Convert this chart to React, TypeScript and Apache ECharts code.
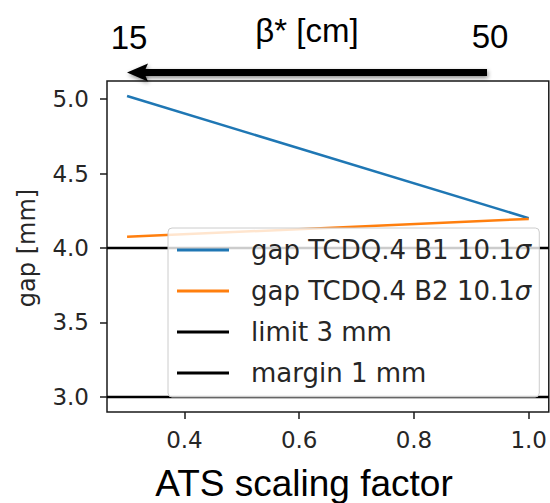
import React, { useEffect, useRef } from 'react';
import * as echarts from 'echarts';

const atsFactor = [0.3, 1.0];
const gapB1 = [5.02, 4.2];
const gapB2 = [4.075, 4.195];
const limitLevel = 3.0;
const marginLevel = 4.0;
const xTicks = [0.4, 0.6, 0.8, 1.0];
const yTicks = [3.0, 3.5, 4.0, 4.5, 5.0];
const seriesNames = ['gap TCDQ.4 B1 10.1σ', 'gap TCDQ.4 B2 10.1σ', 'limit 3 mm', 'margin 1 mm'];
const xRange = [0.265, 1.035];
const yRange = [2.899, 5.121];
const betaLabels = ['15', '50'];
const betaTitle = 'β* [cm]';
const xTitle = 'ATS scaling factor';
const yTitle = 'gap [mm]';

export default function App() {
  const ref = useRef<HTMLDivElement>(null);
  useEffect(() => {
    if (!ref.current) return;
    const chart = echarts.init(ref.current, null, { renderer: 'svg' });
    const tickFont = { fontFamily: 'DejaVu Sans', fontSize: 23, color: '#262626' };
    const shadow = { shadowBlur: 4, shadowColor: 'rgba(0,0,0,0.45)', shadowOffsetX: 1, shadowOffsetY: 2 };
    chart.setOption({
      animation: false,
      grid: {
        left: 107, top: 81, width: 445, height: 331,
        show: true, borderColor: '#1a1a1a', borderWidth: 1.5, backgroundColor: 'transparent',
      },
      xAxis: {
        type: 'value', min: xRange[0], max: xRange[1],
        splitLine: { show: false },
        axisLine: { show: false },
        axisTick: { show: true, length: 7, customValues: xTicks, lineStyle: { color: '#1a1a1a', width: 1.5 } },
        axisLabel: { customValues: xTicks, margin: 16, formatter: (v: number) => v.toFixed(1), ...tickFont },
      },
      yAxis: {
        type: 'value', min: yRange[0], max: yRange[1],
        splitLine: { show: false },
        axisLine: { show: false },
        axisTick: { show: true, length: 7, customValues: yTicks, lineStyle: { color: '#1a1a1a', width: 1.5 } },
        axisLabel: { customValues: yTicks, margin: 18, formatter: (v: number) => v.toFixed(1), ...tickFont },
      },
      legend: {
        orient: 'vertical', left: 168, top: 228,
        data: seriesNames,
        icon: 'rect', itemWidth: 52, itemHeight: 3, itemGap: 11,
        padding: [7, 8, 9, 9],
        backgroundColor: 'rgba(255,255,255,0.8)', borderColor: '#cccccc', borderWidth: 1, borderRadius: 4,
        formatter: (name: string) =>
          name.endsWith('σ') ? `{n|${name.slice(0, -1)}}{s|σ}` : `{n|${name}}`,
        textStyle: {
          padding: [0, 0, 0, 17],
          lineHeight: 30,
          rich: {
            n: { fontFamily: 'DejaVu Sans', fontSize: 26, color: '#262626', lineHeight: 30 },
            s: { fontFamily: 'DejaVu Sans', fontStyle: 'italic', fontSize: 26, color: '#262626', lineHeight: 30 },
          },
        },
      },
      series: [
        {
          name: seriesNames[0], type: 'line', symbol: 'none', color: '#1f77b4',
          lineStyle: { width: 2.5 },
          data: atsFactor.map((x, i) => [x, gapB1[i]]),
        },
        {
          name: seriesNames[1], type: 'line', symbol: 'none', color: '#ff7f0e',
          lineStyle: { width: 2.5 },
          data: atsFactor.map((x, i) => [x, gapB2[i]]),
        },
        {
          name: seriesNames[2], type: 'line', symbol: 'none', color: '#000000',
          lineStyle: { width: 2.5 },
          data: xRange.map((x) => [x, limitLevel]),
        },
        {
          name: seriesNames[3], type: 'line', symbol: 'none', color: '#000000',
          lineStyle: { width: 2.5 },
          data: xRange.map((x) => [x, marginLevel]),
        },
      ],
      graphic: [
        {
          type: 'rect', shape: { x: 142, y: 69, width: 345, height: 7 },
          style: { fill: '#000', ...shadow },
        },
        {
          type: 'polygon', shape: { points: [[127, 72.5], [148, 63.5], [144, 72.5], [148, 81.5]] },
          style: { fill: '#000', ...shadow },
        },
        {
          type: 'text', x: 129, y: 37,
          style: { text: betaLabels[0], fontFamily: 'Liberation Sans', fontSize: 33, fill: '#000', align: 'center', verticalAlign: 'middle' },
        },
        {
          type: 'text', x: 490, y: 36,
          style: { text: betaLabels[1], fontFamily: 'Liberation Sans', fontSize: 33, fill: '#000', align: 'center', verticalAlign: 'middle' },
        },
        {
          type: 'text', x: 307, y: 30,
          style: { text: betaTitle, fontFamily: 'Liberation Sans', fontSize: 33, fill: '#000', align: 'center', verticalAlign: 'middle' },
        },
        {
          type: 'text', x: 304, y: 483,
          style: { text: xTitle, fontFamily: 'Liberation Sans', fontSize: 37, fill: '#000', align: 'center', verticalAlign: 'middle' },
        },
        {
          type: 'text', x: 27, y: 248, rotation: Math.PI / 2,
          style: { text: yTitle, fontFamily: 'DejaVu Sans', fontSize: 24, fill: '#262626', align: 'center', verticalAlign: 'middle' },
        },
      ],
    });
    return () => chart.dispose();
  }, []);
  return (
    <div
      ref={ref}
      style={{ position: 'fixed', left: 0, top: 0, width: 550, height: 503, background: '#fff' }}
    />
  );
}
